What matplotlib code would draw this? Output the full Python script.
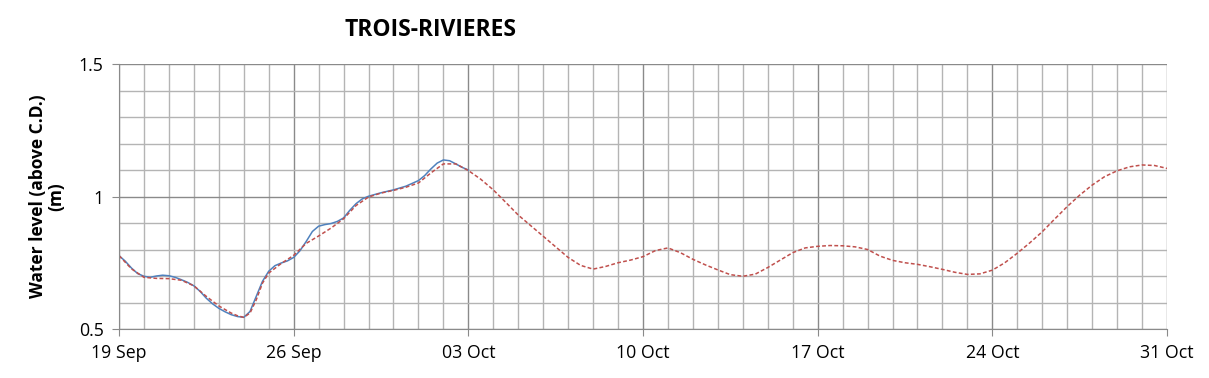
import matplotlib
matplotlib.use('Agg')

import matplotlib.pyplot as plt
import numpy as np

# Niveles de agua (días desde el 19 Sep)
obs_days = [0, 0.25, 0.5, 0.75, 1, 1.25, 1.5, 1.75, 2, 2.25, 2.5, 2.75, 3, 3.25,
            3.5, 3.75, 4, 4.25, 4.5, 4.75, 5, 5.25, 5.5, 5.75, 6, 6.25, 6.5, 6.75,
            7, 7.25, 7.5, 7.75, 8, 8.25, 8.5, 8.75, 9, 9.25, 9.5, 9.75, 10, 10.5,
            11, 11.5, 12, 12.25, 12.5, 12.75, 13, 13.25, 13.5, 13.75, 14]
obs_level = [0.777, 0.756, 0.730, 0.709, 0.699, 0.695, 0.700, 0.703, 0.701, 0.695,
             0.686, 0.676, 0.663, 0.642, 0.616, 0.595, 0.578, 0.565, 0.554, 0.547,
             0.544, 0.566, 0.623, 0.680, 0.718, 0.739, 0.749, 0.757, 0.770, 0.795,
             0.830, 0.868, 0.888, 0.894, 0.898, 0.906, 0.919, 0.948, 0.973, 0.991,
             1.001, 1.014, 1.025, 1.039, 1.060, 1.079, 1.104, 1.126, 1.138, 1.135,
             1.123, 1.110, 1.100]

fc_days = [0, 0.5, 1, 1.5, 2, 2.5, 3, 3.5, 4, 4.5, 4.75, 5, 5.25, 5.5, 5.75, 6,
           6.5, 7, 7.5, 8, 8.5, 9, 9.5, 10, 10.5, 11, 11.5, 12, 12.5, 13, 13.5, 14,
           14.5, 15, 15.5, 16, 16.5, 17, 17.5, 18, 18.5, 19, 19.5, 20, 20.5, 21,
           21.5, 22, 22.5, 23, 23.5, 24, 24.5, 25, 25.5, 26, 26.5, 27, 27.5, 28,
           28.5, 29, 29.5, 30, 30.5, 31, 31.5, 32, 32.5, 33, 33.5, 34, 34.5, 35,
           35.5, 36, 36.5, 37, 37.5, 38, 38.5, 39, 39.5, 40, 40.5, 41, 41.5, 42]
fc_level = [0.777, 0.727, 0.695, 0.691, 0.690, 0.684, 0.663, 0.623, 0.587, 0.560,
            0.550, 0.544, 0.560, 0.610, 0.673, 0.711, 0.747, 0.778, 0.823, 0.851,
            0.881, 0.916, 0.966, 0.998, 1.013, 1.023, 1.035, 1.051, 1.089, 1.123,
            1.123, 1.098, 1.065, 1.025, 0.978, 0.930, 0.890, 0.850, 0.810, 0.770,
            0.740, 0.726, 0.736, 0.750, 0.760, 0.773, 0.796, 0.806, 0.788, 0.763,
            0.742, 0.723, 0.705, 0.699, 0.707, 0.732, 0.760, 0.788, 0.806, 0.812,
            0.815, 0.814, 0.810, 0.800, 0.775, 0.759, 0.750, 0.744, 0.735, 0.725,
            0.714, 0.706, 0.708, 0.722, 0.750, 0.786, 0.825, 0.867, 0.915, 0.962,
            1.005, 1.043, 1.075, 1.097, 1.112, 1.119, 1.117, 1.106]

tick_days = [0, 7, 14, 21, 28, 35, 42]
tick_labels = ['19 Sep', '26 Sep', '03 Oct', '10 Oct', '17 Oct', '24 Oct', '31 Oct']

plt.rcParams['font.family'] = ['Open Sans', 'DejaVu Sans']

fig = plt.figure(figsize=(12.09, 3.78), dpi=100)
ax = fig.add_axes([119 / 1209, 49 / 378, 1048 / 1209, 265 / 378])

# Rejilla: menor cada día / 0.1 m, mayor cada semana / 0.5 m
ax.set_xlim(0, 42)
ax.set_ylim(0.5, 1.5)
ax.set_xticks(tick_days)
ax.set_xticklabels(tick_labels)
ax.set_yticks([0.5, 1.0, 1.5])
ax.set_yticklabels(['0.5', '1', '1.5'])
ax.set_xticks(np.arange(0, 43, 1), minor=True)
ax.set_yticks(np.arange(0.5, 1.51, 0.1), minor=True)
ax.grid(which='minor', color='#b4b4b4', linewidth=1.0)
ax.grid(which='major', color='#8a8a8a', linewidth=1.0)
ax.set_axisbelow(True)
ax.tick_params(which='minor', length=0)
ax.tick_params(which='major', length=5, color='#8a8a8a', labelsize=12.8)
ax.tick_params(axis='x', pad=6)
ax.tick_params(axis='y', pad=6)
for side in ['top', 'right']:
    ax.spines[side].set_visible(False)
for side in ['left', 'bottom']:
    ax.spines[side].set_color('#8a8a8a')

ax.plot(obs_days, obs_level, color='#4f81bd', linewidth=1.1)
ax.plot(fc_days, fc_level, color='#c0504d', linewidth=1.1, dashes=(2.5, 1.5))

ax.set_ylabel('Water level (above C.D.)\n(m)', fontsize=12.5, fontweight='bold',
              linespacing=1.0, labelpad=10)
fig.text(430 / 1209, 1 - 30 / 378, 'TROIS-RIVIERES', fontsize=16.5, fontweight='bold',
         ha='center', va='center')

plt.savefig('out.png', dpi=100)
